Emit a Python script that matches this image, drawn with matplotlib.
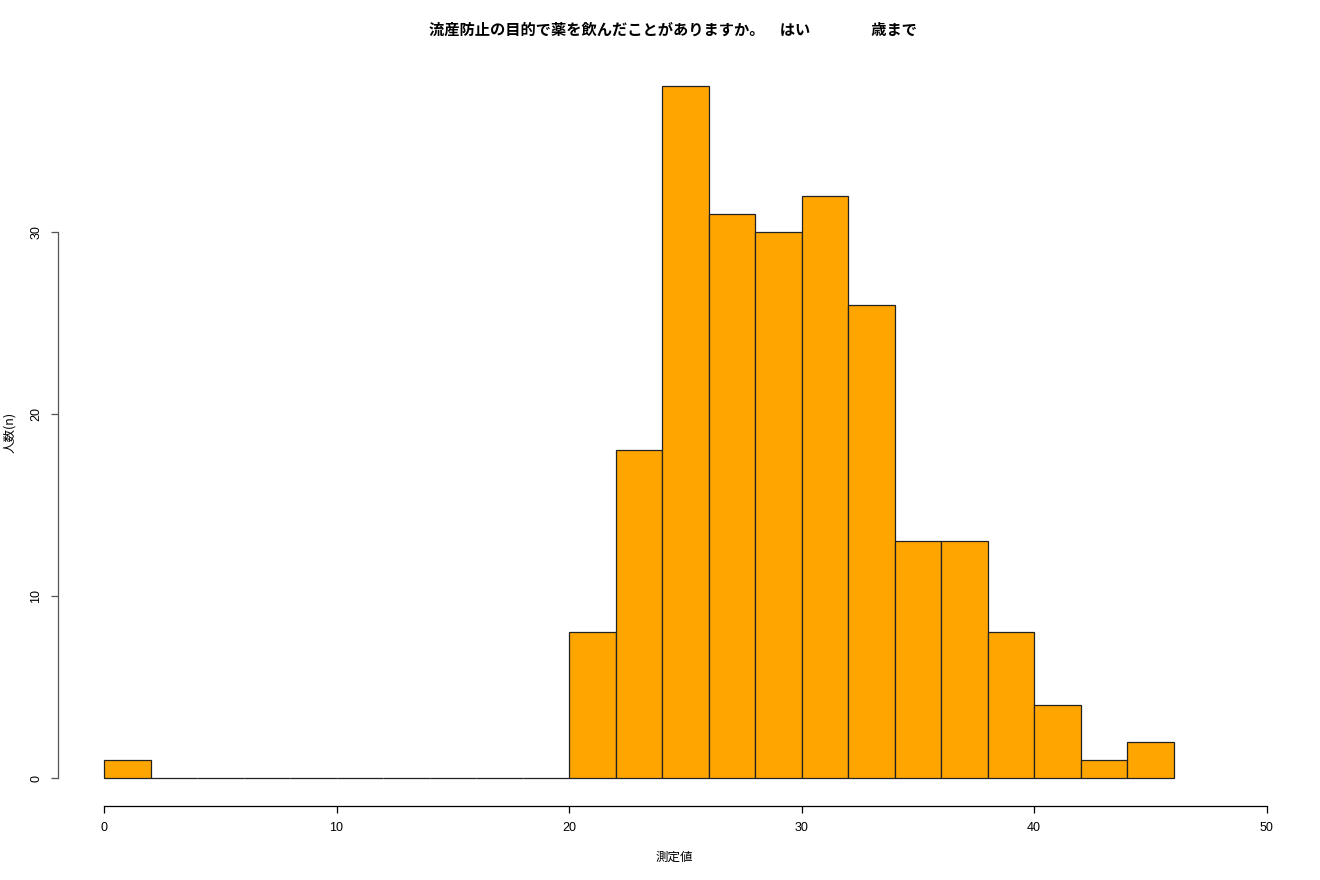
import matplotlib
matplotlib.use("Agg")
import matplotlib.pyplot as plt
import numpy as np

plt.rcParams['font.family'] = ['Noto Sans CJK JP', 'DejaVu Sans']

# histogram data (bin edges every 2 units)
bin_edges = [0, 2, 4, 6, 8, 10, 12, 14, 16, 18, 20, 22, 24, 26, 28, 30, 32, 34, 36, 38, 40, 42, 44, 46]
counts = [1, 0, 0, 0, 0, 0, 0, 0, 0, 0, 8, 18, 38, 31, 30, 32, 26, 13, 13, 8, 4, 1, 2]
x_ticks = [0, 10, 20, 30, 40, 50]
y_ticks = [0, 10, 20, 30]

title = "流産防止の目的で薬を飲んだことがありますか。　はい　　　　歳まで"
xlab = "測定値"
ylab = "人数(n)"

fig = plt.figure(figsize=(13.2, 8.8), dpi=100)
ax = fig.add_axes([57.5 / 1320, 74.3 / 880, 1255.5 / 1320, 747 / 880])

widths = np.diff(bin_edges)
ax.bar(bin_edges[:-1], counts, width=widths, align='edge',
       color='#FFA500', edgecolor='#222222', linewidth=0.9)

ax.set_xlim(-2, 52)
ax.set_ylim(-1.52, 39.52)

for s in ['top', 'right']:
    ax.spines[s].set_visible(False)
ax.spines['left'].set_bounds(0, 30)
ax.spines['bottom'].set_bounds(0, 50)
ax.spines['left'].set_color('#555555')
ax.spines['left'].set_linewidth(0.9)
ax.spines['bottom'].set_linewidth(0.9)

ax.set_xticks(x_ticks)
ax.set_xticklabels([str(v) for v in x_ticks], fontsize=9, family='Liberation Sans')
ax.set_yticks(y_ticks)
ax.set_yticklabels([str(v) for v in y_ticks], fontsize=9, rotation=90, va='center',
                   family='Liberation Sans')
ax.tick_params(axis='x', length=5, width=0.9, pad=7)
ax.tick_params(axis='y', length=5, width=0.9, pad=6, color='#555555')

fig.text(673 / 1320, 1 - 30 / 880, title, ha='center', va='center',
         fontsize=11, fontweight='bold')
fig.text(674 / 1320, 1 - 857 / 880, xlab, ha='center', va='center', fontsize=9)
fig.text(10 / 1320, 1 - 432 / 880, ylab, ha='center', va='center',
         fontsize=9, rotation=90)

fig.savefig("out.png", dpi=100)
